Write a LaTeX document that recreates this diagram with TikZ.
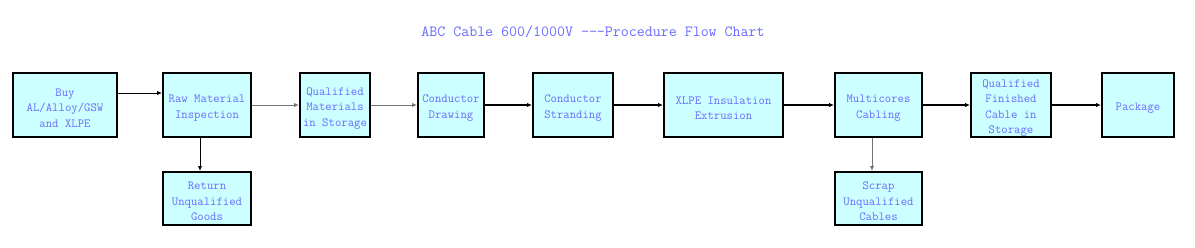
\documentclass[tikz,border=0pt]{standalone}
\usepackage{fontspec}
\usetikzlibrary{arrows.meta}
\definecolor{txtblue}{HTML}{6A6AFF}
\definecolor{boxfill}{HTML}{CCFFFF}
\newcommand{\dnstrut}{\rule{0pt}{14pt}}
\tikzset{
  stepbox/.style={draw=black, line width=2pt, fill=boxfill, text=txtblue,
    font=\ttfamily\fontsize{12.4pt}{15.5pt}\selectfont, align=center, inner sep=0pt},
  boldarrow/.style={draw=black, line width=1.4pt, -{Latex[length=5pt,width=4.5pt]}},
  thinarrow/.style={draw=black!55, line width=1pt, -{Latex[length=5pt,width=4.5pt]}},
  blackthin/.style={draw=black, line width=1pt, -{Latex[length=5pt,width=4.5pt]}},
}
\begin{document}
\begin{tikzpicture}[x=1pt,y=-1pt]
\useasboundingbox (0,0) rectangle (1195,247);
\node[font=\ttfamily\fontsize{15.5pt}{18pt}\selectfont, text=txtblue] (title) at (593,32) {ABC Cable 600/1000V ---Procedure Flow Chart};
\node[stepbox, minimum width=104pt, minimum height=64pt] (buy) at (65,105) {\dnstrut Buy\\AL/Alloy/GSW\\and XLPE};
\node[stepbox, minimum width=88pt, minimum height=64pt] (raw) at (207,105) {\dnstrut Raw Material\\Inspection};
\node[stepbox, minimum width=70pt, minimum height=64pt] (qm) at (335,105) {\dnstrut Qualified\\Materials\\in Storage};
\node[stepbox, minimum width=88pt, minimum height=53pt] (ret) at (207,198.5) {\dnstrut Return\\Unqualified\\Goods};
\node[stepbox, minimum width=66pt, minimum height=64pt] (cd) at (451,105) {\dnstrut Conductor\\Drawing};
\node[stepbox, minimum width=80pt, minimum height=64pt] (cs) at (573,105) {\dnstrut Conductor\\Stranding};
\node[stepbox, minimum width=119pt, minimum height=64pt] (xlpe) at (723.5,105) {\dnstrut XLPE Insulation\\Extrusion};
\node[stepbox, minimum width=87pt, minimum height=64pt] (mc) at (878.5,105) {\dnstrut Multicores\\Cabling};
\node[stepbox, minimum width=80pt, minimum height=64pt] (qf) at (1011,105) {\dnstrut Qualified\\Finished\\Cable in\\Storage};
\node[stepbox, minimum width=72pt, minimum height=64pt] (pk) at (1138,105) {\dnstrut Package};
\node[stepbox, minimum width=87pt, minimum height=53pt] (scr) at (878.5,198.5) {\dnstrut Scrap\\Unqualified\\Cables};
\draw[blackthin] ([yshift=12pt]buy.east) -- ([yshift=12pt]raw.west);
\draw[thinarrow] (raw.east) -- (qm.west);
\draw[thinarrow] (qm.east) -- (cd.west);
\draw[boldarrow] (cd.east) -- (cs.west);
\draw[boldarrow] (cs.east) -- (xlpe.west);
\draw[boldarrow] (xlpe.east) -- (mc.west);
\draw[boldarrow] (mc.east) -- (qf.west);
\draw[boldarrow] (qf.east) -- (pk.west);
\draw[blackthin] ([xshift=-7pt]raw.south) -- ([xshift=-7pt]ret.north);
\draw[thinarrow] ([xshift=-6.5pt]mc.south) -- ([xshift=-6.5pt]scr.north);
\end{tikzpicture}
\end{document}
